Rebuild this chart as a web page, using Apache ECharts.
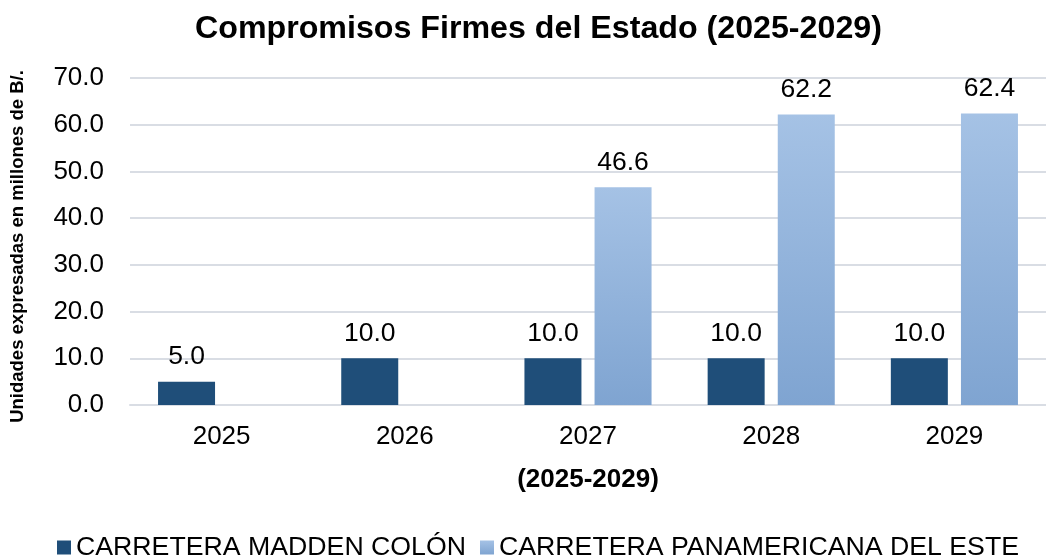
<!DOCTYPE html>
<html>
<head>
<meta charset="utf-8">
<script src="https://cdn.jsdelivr.net/npm/echarts@6/dist/echarts.min.js"></script>
<style>
  html, body { margin: 0; padding: 0; background: #fff; }
  #chart { width: 1046px; height: 558px; }
</style>
</head>
<body>
<div id="chart"></div>
<script>
  // datos del gráfico
  const years = ['2025', '2026', '2027', '2028', '2029'];
  const maddenColon = [5.0, 10.0, 10.0, 10.0, 10.0];
  const panamericanaEste = [null, null, 46.6, 62.2, 62.4];
  const seriesNames = ['CARRETERA MADDEN COLÓN', 'CARRETERA PANAMERICANA DEL ESTE'];

  const font = '"Liberation Sans", Arial, sans-serif';

  let myChart = echarts.init(document.getElementById('chart'));
  let labelStyle = {
    show: true,
    position: 'top',
    distance: 11,
    color: '#000',
    fontSize: 26.5,
    fontFamily: font,
    formatter: function (p) { return p.value == null ? '' : p.value.toFixed(1); }
  };

  let option = {
    backgroundColor: '#fff',
    animation: false,
    title: {
      text: 'Compromisos Firmes del Estado (2025-2029)',
      left: 190,
      top: 8,
      textStyle: { fontFamily: font, fontSize: 32.2, fontWeight: 'bold', color: '#000' }
    },
    legend: {
      top: 529,
      left: 52,
      itemWidth: 14,
      itemHeight: 14,
      itemGap: 14,
      icon: 'rect',
      textStyle: { fontFamily: font, fontSize: 26.7, color: '#000' },
      data: seriesNames
    },
    grid: { left: 126, top: 78, right: 0, height: 327, containLabel: false },
    xAxis: {
      type: 'category',
      data: years,
      name: '(2025-2029)',
      nameLocation: 'middle',
      nameGap: 62,
      nameTextStyle: { fontFamily: font, fontSize: 26, fontWeight: 'bold', color: '#000' },
      axisLine: { show: true, lineStyle: { color: '#d9dde4', width: 2 } },
      axisTick: { show: false },
      axisLabel: { color: '#000', fontFamily: font, fontSize: 26, margin: 19 }
    },
    yAxis: {
      type: 'value',
      min: 0,
      max: 70,
      interval: 10,
      name: 'Unidades expresadas en millones de B/.',
      nameLocation: 'middle',
      nameGap: 103,
      nameRotate: 90,
      nameTextStyle: { fontFamily: font, fontSize: 18.5, fontWeight: 'bold', color: '#000', padding: [0, 10, 0, 0] },
      axisLine: { show: false },
      axisTick: { show: false },
      axisLabel: {
        color: '#000', fontFamily: font, fontSize: 26, margin: 26,
        formatter: function (v) { return v.toFixed(1); }
      },
      splitLine: { lineStyle: { color: '#d9dde4', width: 2 } }
    },
    series: [
      {
        name: seriesNames[0],
        type: 'bar',
        barWidth: 57,
        barGap: '23%',
        itemStyle: { color: '#1f4e79' },
        label: labelStyle,
        data: maddenColon
      },
      {
        name: seriesNames[1],
        type: 'bar',
        barWidth: 57,
        itemStyle: {
          color: {
            type: 'linear', x: 0, y: 0, x2: 0, y2: 1,
            colorStops: [
              { offset: 0, color: '#a5c2e5' },
              { offset: 1, color: '#7fa4d1' }
            ]
          }
        },
        label: labelStyle,
        data: panamericanaEste
      }
    ]
  };

  myChart.setOption(option);
</script>
</body>
</html>
